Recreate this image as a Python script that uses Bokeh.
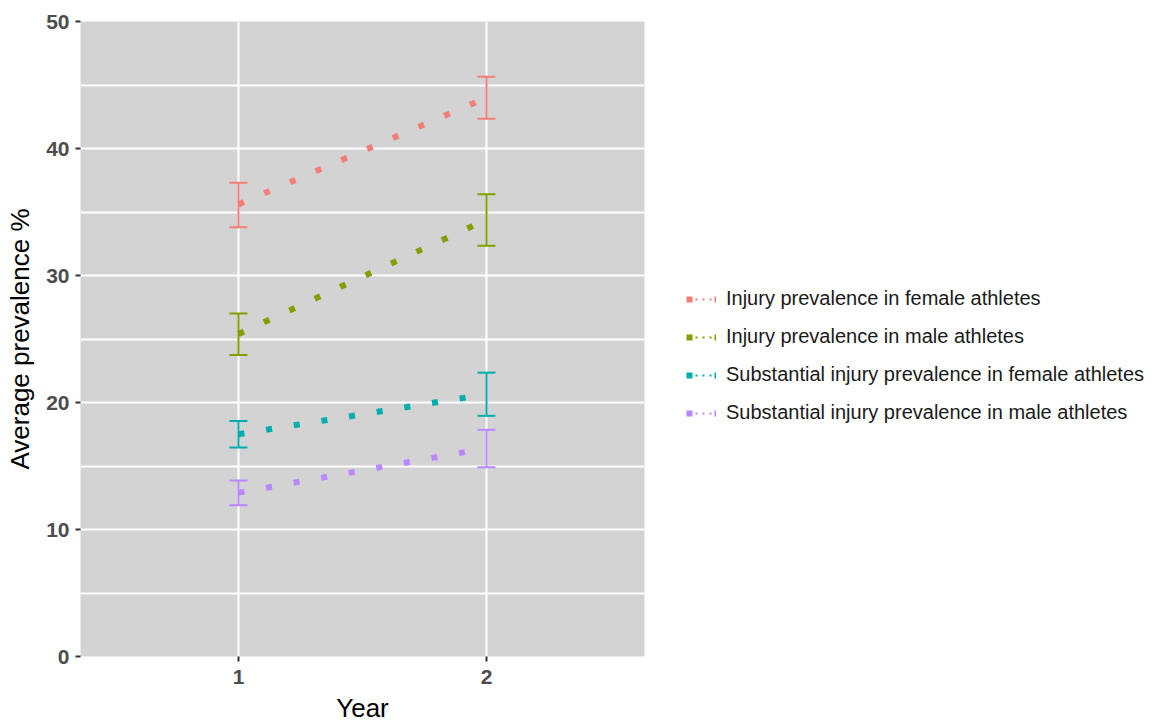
from bokeh.plotting import figure
from bokeh.models import (Range1d, FixedTicker, ColumnDataSource, Whisker, TeeHead,
                          Legend, LegendItem)
from bokeh.embed import file_html
from bokeh.resources import INLINE

years = [1, 2]
series = ["Injury prevalence in female athletes",
          "Injury prevalence in male athletes",
          "Substantial injury prevalence in female athletes",
          "Substantial injury prevalence in male athletes"]
colors = ["#F27E78", "#7FA000", "#00ADAD", "#B987FF"]

female_inj = [35.6, 44.0]
female_inj_lo = [33.8, 42.35]
female_inj_hi = [37.3, 45.65]

male_inj = [25.4, 34.4]
male_inj_lo = [23.75, 32.35]
male_inj_hi = [27.0, 36.4]

female_sub = [17.5, 20.65]
female_sub_lo = [16.45, 18.95]
female_sub_hi = [18.55, 22.35]

male_sub = [12.9, 16.4]
male_sub_lo = [11.9, 14.9]
male_sub_hi = [13.85, 17.85]

means = [female_inj, male_inj, female_sub, male_sub]
lows = [female_inj_lo, male_inj_lo, female_sub_lo, male_sub_lo]
highs = [female_inj_hi, male_inj_hi, female_sub_hi, male_sub_hi]

y_ticks = [0, 10, 20, 30, 40, 50]
y_minor = [5, 15, 25, 35, 45]
x_ticks = [1, 2]

p = figure(frame_width=564, frame_height=635, output_backend="svg", toolbar_location=None,
           x_range=Range1d(0.363, 2.637), y_range=Range1d(0, 50),
           min_border_left=80, min_border_right=500, min_border_top=21, min_border_bottom=58)

p.background_fill_color = "#D3D3D3"
p.border_fill_color = "white"
p.outline_line_color = None

p.xaxis.ticker = FixedTicker(ticks=x_ticks)
p.yaxis.ticker = FixedTicker(ticks=y_ticks, minor_ticks=y_minor)
p.xgrid.ticker = FixedTicker(ticks=x_ticks)
p.ygrid.ticker = FixedTicker(ticks=y_ticks, minor_ticks=y_minor)
p.grid.grid_line_color = "white"
p.grid.grid_line_width = 2
p.ygrid.minor_grid_line_color = "white"
p.ygrid.minor_grid_line_width = 2

for ax in (p.xaxis, p.yaxis):
    ax.axis_line_color = None
    ax.major_tick_line_color = "#333333"
    ax.major_tick_line_width = 2
    ax.major_tick_in = 0
    ax.major_tick_out = 5
    ax.minor_tick_line_color = None
    ax.major_label_text_font = "Liberation Sans"
    ax.major_label_text_font_style = "bold"
    ax.major_label_text_font_size = "21px"
    ax.major_label_text_color = "#4D4D4D"
    ax.axis_label_text_font = "Liberation Sans"
    ax.axis_label_text_font_style = "normal"
    ax.axis_label_text_font_size = "26px"
    ax.axis_label_text_color = "#000000"

p.xaxis.axis_label = "Year"
p.yaxis.axis_label = "Average prevalence %"
p.xaxis.major_label_standoff = 8
p.yaxis.major_label_standoff = 6
p.xaxis.axis_label_standoff = 6
p.yaxis.axis_label_standoff = 8

nan_src = ColumnDataSource(dict(x=[float("nan")], y=[float("nan")]))

items = []
for name, col, m, lo, hi in zip(series, colors, means, lows, highs):
    src = ColumnDataSource(dict(x=years, y=m, lo=lo, hi=hi))
    w = Whisker(source=src, base="x", lower="lo", upper="hi", dimension="height",
                line_color=col, line_width=2,
                upper_head=TeeHead(size=18, line_color=col, line_width=2),
                lower_head=TeeHead(size=18, line_color=col, line_width=2))
    p.add_layout(w)
    ln = p.line("x", "y", source=src, line_color=col, line_width=6,
                line_dash="6 22", line_cap="butt")
    key_dots = p.line("x", "y", source=nan_src, line_color=col, line_width=2,
                      line_dash="2 5", line_dash_offset=-2)
    items.append(LegendItem(label=name, renderers=[key_dots, ln]))

legend = Legend(items=items, location=(42, 232))
legend.glyph_width = 30
legend.glyph_height = 20
legend.label_height = 20
legend.spacing = 15
legend.padding = 0
legend.margin = 0
legend.label_standoff = 10
legend.label_text_font = "Liberation Sans"
legend.label_text_font_size = "20px"
legend.label_text_color = "#1A1A1A"
legend.background_fill_alpha = 0
legend.border_line_color = None
p.add_layout(legend, "right")

open("out.html", "w").write(file_html(p, INLINE))
